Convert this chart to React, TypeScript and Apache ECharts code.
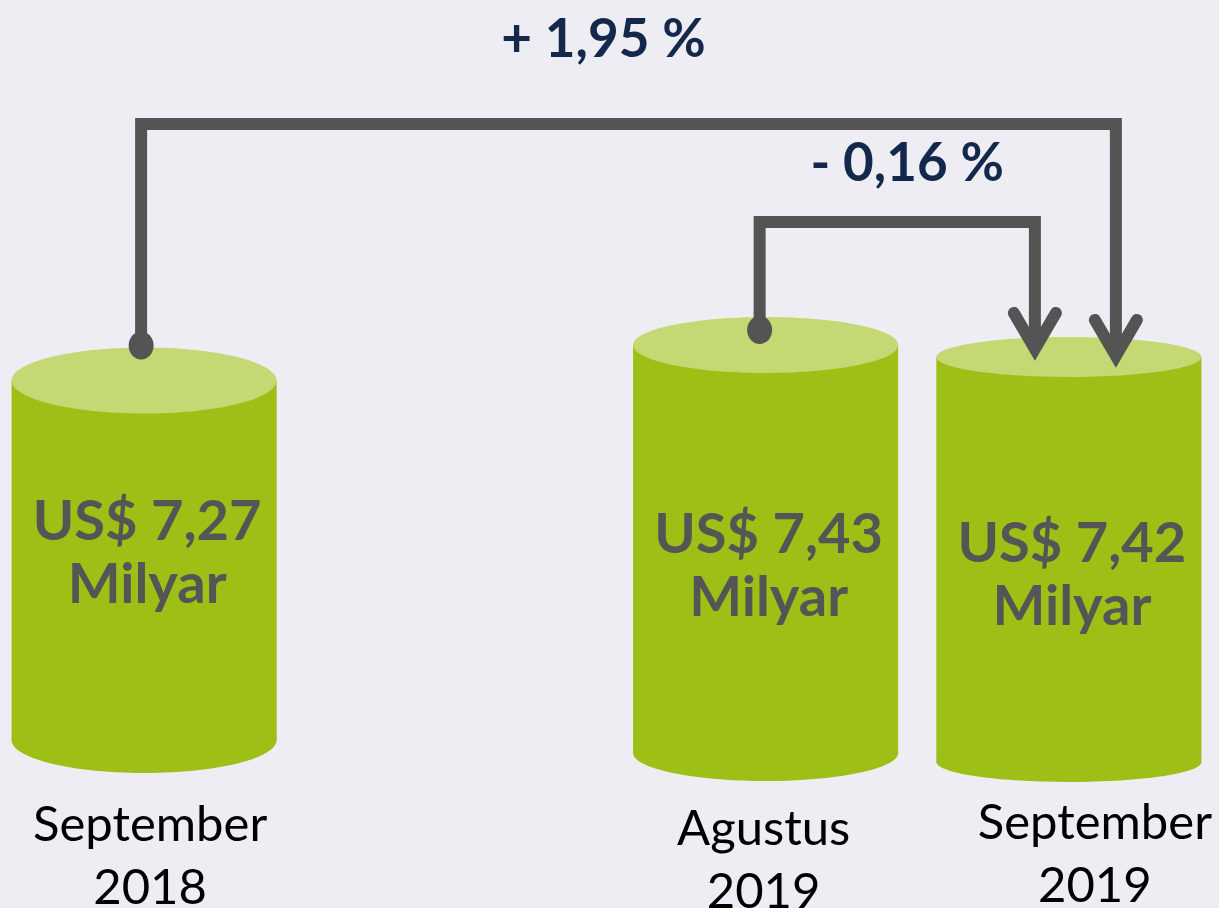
import React, { useEffect, useRef } from "react";
import * as echarts from "echarts";

// ---------- data ----------
const periodLabels = ["September\n2018", "Agustus\n2019", "September\n2019"];
const exportValues = [7.27, 7.43, 7.42]; // US$ milyar
const valueUnit = "Milyar";
const changeLabels = ["+ 1,95 %", "- 0,16 %"];
const changeFrom = [0, 1];
const changeTo = [2, 2];
// category slots on the axis (an empty slot keeps the gap between 2018 and 2019)
const axisCategories = [periodLabels[0], "", periodLabels[1], periodLabels[2]];

// ---------- layout / style (not data) ----------
const BG = "#efedf4";
const BODY = "#9ebf16";
const TOP = "#c4d873";
const LINE = "#545454";
const VALUE_TXT = "#555555";
const PCT_TXT = "#14284b";
const FONT = "Lato, 'Open Sans', sans-serif";
const cylDx = [0, 5, 0];
const cylDy = [-11, 2, 11];
const cylDepth = [33, 28, 20];
const catLabelDx = [6, -2, 26];
const catLabelDy = [102, 106, 100];
const valueDy = [-190, -190, -190];
const connFromDx = [-3, -6];
const connFromDy = [-35, -15];
const connToDx = [47, -34];
const connToDy = [10, 3];
const connLevel = [124, 222];
const pctDx = [-25, 10];
const pctDy = [-88, -62];

function geom(api: any, p: number) {
  const slot = axisCategories.indexOf(periodLabels[p]);
  const top = api.coord([slot, exportValues[p]]);
  const base = api.coord([slot, 6.09]);
  const band = api.size([1, 0])[0];
  return {
    cx: top[0] + cylDx[p],
    topY: top[1] + cylDy[p],
    baseY: base[1] + cylDy[p],
    axisY: base[1],
    hw: (band * 0.86) / 2,
  };
}

export default function App() {
  const ref = useRef<HTMLDivElement>(null);
  useEffect(() => {
    const chart = echarts.init(ref.current!, null, { renderer: "svg" });
    chart.setOption({
      animation: false,
      backgroundColor: BG,
      grid: { left: -10, right: -4, top: 151, bottom: 157, outerBoundsMode: "none" },
      xAxis: { type: "category", data: axisCategories, show: false },
      yAxis: { type: "value", min: 6.09, max: 8.06, show: false },
      series: [
        {
          type: "custom",
          name: "Ekspor",
          data: periodLabels.map((p, i) => [p, exportValues[i]]),
          encode: { x: 0, y: 1 },
          renderItem: (params: any, api: any) => {
            const p = params.dataIndex;
            const g = geom(api, p);
            const ry = cylDepth[p];
            const v = exportValues[p];
            return {
              type: "group",
              children: [
                {
                  type: "rect",
                  shape: { x: g.cx - g.hw, y: g.topY, width: g.hw * 2, height: g.baseY - g.topY },
                  style: { fill: BODY },
                },
                {
                  type: "ellipse",
                  shape: { cx: g.cx, cy: g.baseY, rx: g.hw, ry },
                  style: { fill: BODY },
                },
                {
                  type: "ellipse",
                  shape: { cx: g.cx, cy: g.topY, rx: g.hw, ry },
                  style: { fill: TOP },
                },
                {
                  type: "text",
                  x: g.cx + 3,
                  y: g.baseY + valueDy[p],
                  style: {
                    text: "US$ " + v.toFixed(2).replace(".", ",") + "\n" + valueUnit,
                    fill: VALUE_TXT,
                    fontFamily: FONT,
                    fontWeight: "bold",
                    fontSize: 56,
                    lineHeight: 63,
                    align: "center",
                    verticalAlign: "middle",
                  },
                },
                {
                  type: "text",
                  x: g.cx + catLabelDx[p],
                  y: g.axisY + catLabelDy[p],
                  style: {
                    text: periodLabels[p],
                    fill: "#000000",
                    fontFamily: FONT,
                    fontSize: 49,
                    lineHeight: 63,
                    align: "center",
                    verticalAlign: "middle",
                  },
                },
              ],
            };
          },
        },
        {
          type: "custom",
          name: "Perubahan",
          data: changeLabels.map((_, i) => [
            periodLabels[changeFrom[i]],
            exportValues[changeFrom[i]],
            periodLabels[changeTo[i]],
            exportValues[changeTo[i]],
          ]),
          encode: { x: [0, 2], y: [1, 3] },
          z: 5,
          renderItem: (params: any, api: any) => {
            const i = params.dataIndex;
            const a = geom(api, changeFrom[i]);
            const b = geom(api, changeTo[i]);
            const x1 = a.cx + connFromDx[i];
            const y1 = a.topY + connFromDy[i];
            const x2 = b.cx + connToDx[i];
            const tip = b.topY + connToDy[i];
            const vtx = tip - 11;
            const lvl = connLevel[i];
            return {
              type: "group",
              children: [
                {
                  type: "polyline",
                  shape: { points: [[x1, y1], [x1, lvl], [x2, lvl], [x2, vtx]] },
                  style: { stroke: LINE, lineWidth: 12, fill: "none", lineJoin: "miter", lineCap: "butt" },
                },
                {
                  type: "polyline",
                  shape: { points: [[x2 - 21, vtx - 36], [x2, vtx], [x2 + 21, vtx - 36]] },
                  style: { stroke: LINE, lineWidth: 12, fill: "none", lineJoin: "miter", lineCap: "round" },
                },
                {
                  type: "ellipse",
                  shape: { cx: x1, cy: y1, rx: 12.5, ry: 14 },
                  style: { fill: LINE },
                },
                {
                  type: "text",
                  x: (x1 + x2) / 2 + pctDx[i],
                  y: lvl + pctDy[i],
                  style: {
                    text: changeLabels[i],
                    fill: PCT_TXT,
                    fontFamily: FONT,
                    fontWeight: "bold",
                    fontSize: 53,
                    align: "center",
                    verticalAlign: "middle",
                  },
                },
              ],
            };
          },
        },
      ],
    });
    return () => chart.dispose();
  }, []);
  return (
    <div
      ref={ref}
      style={{ position: "fixed", left: 0, top: 0, width: 1219, height: 908, background: BG }}
    />
  );
}
